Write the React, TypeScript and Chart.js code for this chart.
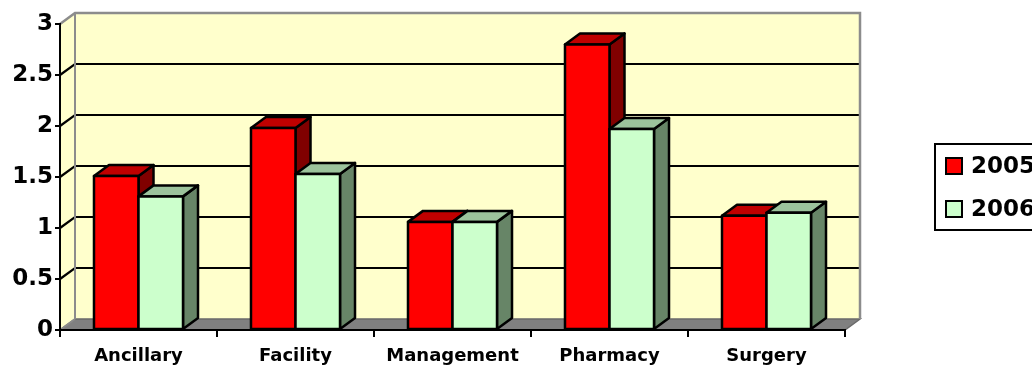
import React, { useEffect, useRef } from "react";
import { Chart, registerables } from "chart.js";

Chart.register(...registerables);

const categories = ["Ancillary", "Facility", "Management", "Pharmacy", "Surgery"];
const series2005 = [1.51, 1.98, 1.06, 2.8, 1.12];
const series2006 = [1.31, 1.53, 1.06, 1.97, 1.15];
const seriesLabels = ["2005", "2006"];
const yTicks = [0, 0.5, 1, 1.5, 2, 2.5, 3];

const FRONT = ["#FF0000", "#CCFFCC"];
const TOP = ["#C00000", "#9CC39C"];
const SIDE = ["#800000", "#678567"];
const DX = 15;
const DY = -11;
const WALL = "#FFFFCC";

const threeD = {
  id: "threeD",
  beforeDraw(chart: any) {
    const { ctx, chartArea } = chart;
    const { left, right, top, bottom } = chartArea;
    const y = chart.scales.y;
    ctx.save();
    ctx.fillStyle = WALL;
    ctx.fillRect(left + DX, top + DY, right - left, bottom - top);
    ctx.beginPath();
    ctx.moveTo(left, top);
    ctx.lineTo(left + DX, top + DY);
    ctx.lineTo(left + DX, bottom + DY);
    ctx.lineTo(left, bottom);
    ctx.closePath();
    ctx.fill();
    ctx.fillStyle = "#808080";
    ctx.beginPath();
    ctx.moveTo(left, bottom);
    ctx.lineTo(right, bottom);
    ctx.lineTo(right + DX, bottom + DY);
    ctx.lineTo(left + DX, bottom + DY);
    ctx.closePath();
    ctx.fill();
    ctx.strokeStyle = "#6a6a6a";
    ctx.lineWidth = 1.5;
    ctx.stroke();
    ctx.strokeStyle = "#000000";
    ctx.lineWidth = 2.2;
    yTicks.forEach((v) => {
      if (v === 0 || v === 3) return;
      const py = y.getPixelForValue(v);
      ctx.beginPath();
      ctx.moveTo(left, py);
      ctx.lineTo(left + DX, py + DY);
      ctx.lineTo(right + DX, py + DY);
      ctx.stroke();
    });
    ctx.strokeStyle = "#8c8c8c";
    ctx.lineWidth = 2.5;
    ctx.beginPath();
    ctx.moveTo(left, top);
    ctx.lineTo(left + DX, top + DY);
    ctx.lineTo(right + DX, top + DY);
    ctx.lineTo(right + DX, bottom + DY);
    ctx.stroke();
    ctx.lineWidth = 2;
    ctx.beginPath();
    ctx.moveTo(left + DX, top + DY);
    ctx.lineTo(left + DX, bottom + DY);
    ctx.stroke();
    ctx.beginPath();
    ctx.moveTo(left, bottom);
    ctx.lineTo(left + DX, bottom + DY);
    ctx.stroke();
    ctx.restore();
  },
  afterDatasetsDraw(chart: any) {
    const { ctx } = chart;
    const metas = [chart.getDatasetMeta(0), chart.getDatasetMeta(1)];
    ctx.save();
    ctx.lineWidth = 2.5;
    ctx.strokeStyle = "#000000";
    ctx.lineJoin = "round";
    for (let c = 0; c < categories.length; c++) {
      metas.forEach((meta: any, idx: number) => {
        const bar = meta.data[c];
        const { x, y, base, width } = bar.getProps(["x", "y", "base", "width"], true);
        const l = x - width / 2;
        const r = x + width / 2;
        ctx.fillStyle = SIDE[idx];
        ctx.beginPath();
        ctx.moveTo(r, y);
        ctx.lineTo(r + DX, y + DY);
        ctx.lineTo(r + DX, base + DY);
        ctx.lineTo(r, base);
        ctx.closePath();
        ctx.fill();
        ctx.stroke();
        ctx.fillStyle = TOP[idx];
        ctx.beginPath();
        ctx.moveTo(l, y);
        ctx.lineTo(r, y);
        ctx.lineTo(r + DX, y + DY);
        ctx.lineTo(l + DX, y + DY);
        ctx.closePath();
        ctx.fill();
        ctx.stroke();
        ctx.fillStyle = FRONT[idx];
        ctx.fillRect(l, y, width, base - y);
        ctx.strokeRect(l, y, width, base - y);
      });
    }
    ctx.restore();
  },
  afterDraw(chart: any) {
    const { ctx } = chart;
    ctx.save();
    ctx.strokeStyle = "#000000";
    ctx.lineWidth = 2;
    ctx.strokeRect(935, 144, 130, 86);
    const rows = [166, 209];
    chart.data.datasets.forEach((ds: any, i: number) => {
      const cy = rows[i];
      ctx.fillStyle = FRONT[i];
      ctx.fillRect(946, cy - 8, 16, 16);
      ctx.strokeRect(946, cy - 8, 16, 16);
      ctx.fillStyle = "#000000";
      ctx.font = "bold 23px 'DejaVu Sans'";
      ctx.textBaseline = "middle";
      ctx.textAlign = "left";
      ctx.fillText(ds.label, 971, cy + 1);
    });
    ctx.restore();
  },
};

export default function App() {
  const ref = useRef<HTMLCanvasElement>(null);
  useEffect(() => {
    if (!ref.current) return;
    const chart = new Chart(ref.current, {
      type: "bar",
      data: {
        labels: categories,
        datasets: [
          {
            label: seriesLabels[0],
            data: series2005,
            backgroundColor: FRONT[0],
            borderColor: "#000000",
            borderWidth: 2,
          },
          {
            label: seriesLabels[1],
            data: series2006,
            backgroundColor: FRONT[1],
            borderColor: "#000000",
            borderWidth: 2,
          },
        ],
      },
      options: {
        animation: false,
        responsive: false,
        devicePixelRatio: 1,
        layout: { padding: { left: 0, right: 187, top: 24, bottom: 0 } },
        datasets: { bar: { barPercentage: 1, categoryPercentage: 0.567 } },
        plugins: { legend: { display: false }, tooltip: { enabled: false } },
        scales: {
          x: {
            grid: { drawOnChartArea: false, tickLength: 7, color: "#000000", lineWidth: 2, offset: true },
            border: { color: "#000000", width: 2 },
            ticks: {
              color: "#000000",
              font: { family: "'DejaVu Sans'", size: 18, weight: "bold" },
              padding: 9,
              maxRotation: 0,
              autoSkip: false,
            },
            afterFit: (s: any) => {
              s.height = 38;
            },
          },
          y: {
            min: 0,
            max: 3,
            grid: { drawOnChartArea: false, tickLength: 5, color: "#000000", lineWidth: 2 },
            border: { color: "#000000", width: 2 },
            ticks: {
              stepSize: 0.5,
              color: "#000000",
              padding: 2,
              font: { family: "'DejaVu Sans'", size: 23, weight: "bold" },
              callback: (v: any) => String(v),
            },
            afterFit: (s: any) => {
              s.width = 60;
            },
          },
        },
      },
      plugins: [threeD],
    });
    return () => chart.destroy();
  }, []);
  return (
    <div style={{ position: "fixed", left: 0, top: 0, width: 1032, height: 368, background: "#fff" }}>
      <canvas ref={ref} width={1032} height={368} style={{ display: "block" }} />
    </div>
  );
}
